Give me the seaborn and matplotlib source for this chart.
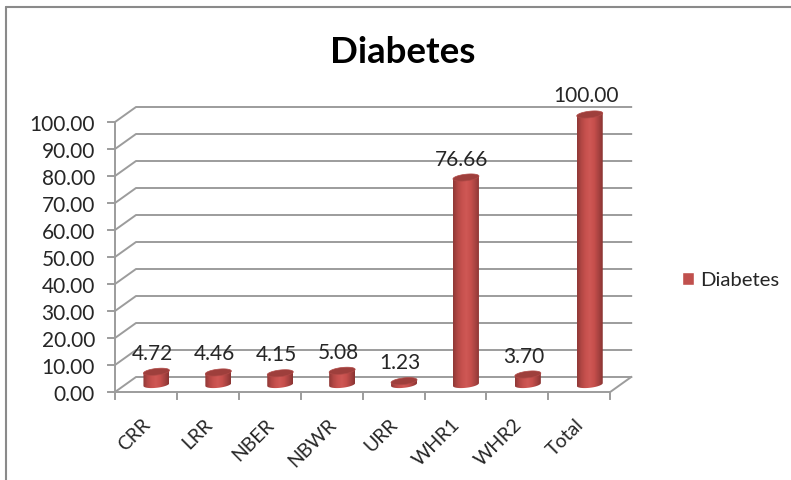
import numpy as np
import pandas as pd
import matplotlib
matplotlib.use("Agg")
import matplotlib.pyplot as plt
from matplotlib.colors import LinearSegmentedColormap
from matplotlib.lines import Line2D
from matplotlib.patches import Polygon
from matplotlib.transforms import ScaledTranslation
import seaborn as sns

categories = ["CRR", "LRR", "NBER", "NBWR", "URR", "WHR1", "WHR2", "Total"]
values = [4.72, 4.46, 4.15, 5.08, 1.23, 76.66, 3.70, 100.00]
series_name = "Diabetes"
axis_ticks = [0, 10, 20, 30, 40, 50, 60, 70, 80, 90, 100]

W, H = 791, 481
DPI = 100
TEXT = "#262626"
GRID = "#9c9c9c"
RED = "#c0504d"

sns.set_style("white")
plt.rcParams["font.family"] = ["Lato", "DejaVu Sans"]

fig = plt.figure(figsize=(W / DPI, H / DPI), dpi=DPI, facecolor="white")

# The axes sit on the mid-depth plane of the 3D box
left_px, right_px = 125.5, 620.7
base_px, top_px = 385.5, 115.5
ax = fig.add_axes([left_px / W, 1 - base_px / H,
                   (right_px - left_px) / W, (base_px - top_px) / H])

df = pd.DataFrame({"category": categories, "value": values, "series": series_name})
sns.barplot(data=df, x="category", y="value", hue="series", palette=[RED],
            saturation=1, width=26 / 61.9, dodge=False, ax=ax, zorder=3)

ax.set_xlim(-0.5, 7.5)
ax.set_ylim(0, 100)
ax.set_xlabel("")
ax.set_ylabel("")
sns.despine(ax=ax, left=True, bottom=True)

px_x = (right_px - left_px) / 8
px_y = (base_px - top_px) / 100
depth_x = 10.5 / px_x
depth_y = 7.5 / px_y


def front(x, v):
    return x - depth_x, v - depth_y


def back(x, v):
    return x + depth_x, v + depth_y


line_kw = dict(color=GRID, lw=1.4, clip_on=False, zorder=1, solid_capstyle="projecting")

# Back-wall gridlines with their slanted returns along the side wall
for v in axis_ticks:
    p0, p1, p2 = front(-0.5, v), back(-0.5, v), back(7.5, v)
    ax.plot([p0[0], p1[0], p2[0]], [p0[1], p1[1], p2[1]], **line_kw)
    tick_end = p0[0] - 7 / px_x
    ax.plot([tick_end, p0[0]], [p0[1], p0[1]], **line_kw)

# Front vertical axis, floor edge and category ticks
ax.plot(*zip(front(-0.5, 0), front(-0.5, 100)), **line_kw)
ax.plot(*zip(front(-0.5, 0), front(7.5, 0), back(7.5, 0)), **line_kw)
for i in range(len(categories) + 1):
    x, y = front(i - 0.5, 0)
    ax.plot([x, x], [y, y - 7 / px_y], **line_kw)

# Cylinder shading over each bar
shade = LinearSegmentedColormap.from_list(
    "cylinder",
    ["#8f3836", "#b24744", "#c7514e", "#cf5855", "#c64f4c", "#a84341", "#8a3432"],
)
gradient = np.linspace(0, 1, 128).reshape(1, -1)
half_w = 13 / px_x
ell_h = 3.3 / px_y
skew = 1.4 / px_y
t_lo = np.linspace(np.pi, 2 * np.pi, 40)
t_all = np.linspace(0, 2 * np.pi, 80)

for bar in [p for p in ax.patches if p.get_height() > 0]:
    cx = bar.get_x() + bar.get_width() / 2
    v = bar.get_height()
    bar.set_visible(False)
    low_x = cx + half_w * np.cos(t_lo)
    low_y = ell_h * np.sin(t_lo) + skew * np.cos(t_lo)
    body = np.column_stack([
        np.r_[low_x, cx + half_w, cx - half_w],
        np.r_[low_y, v + skew, v - skew],
    ])
    clip = Polygon(body, closed=True, transform=ax.transData)
    im = ax.imshow(gradient, cmap=shade, aspect="auto", zorder=3,
                   extent=(cx - half_w, cx + half_w, -ell_h - skew, v + skew))
    # The rounded foot hangs just below the axes, so clip to the figure box
    im.set_clip_box(fig.bbox)
    im.set_clip_path(clip)
    cap = np.column_stack([
        cx + half_w * np.cos(t_all),
        v + ell_h * np.sin(t_all) + skew * np.cos(t_all),
    ])
    ax.add_patch(Polygon(cap, closed=True, facecolor="#9e3f3c", edgecolor="#b04a47",
                         lw=0.5, zorder=4, clip_on=False))

ax.set_xlim(-0.5, 7.5)
ax.set_ylim(0, 100)

# Value labels
for i, v in enumerate(values):
    ax.annotate(f"{v:.2f}", (i, v), xytext=(-4, 19), textcoords="offset pixels",
                ha="center", va="center", fontsize=15, color=TEXT, zorder=6,
                annotation_clip=False)

# Tick labels follow the front edge of the box
ax.set_yticks(axis_ticks)
ax.set_yticklabels([f"{t:.2f}" for t in axis_ticks], fontsize=15, color=TEXT)
ax.tick_params(axis="y", length=0, pad=22)
shift_y = ScaledTranslation(0, -7.5 / DPI, fig.dpi_scale_trans)
for lab in ax.get_yticklabels():
    lab.set_transform(lab.get_transform() + shift_y)

ax.set_xticks(range(len(categories)))
ax.set_xticklabels(categories, fontsize=14, color=TEXT, rotation=45, ha="right",
                   rotation_mode="anchor")
ax.tick_params(axis="x", length=0, pad=22)
shift_x = ScaledTranslation(-15 / DPI, 0, fig.dpi_scale_trans)
for lab in ax.get_xticklabels():
    lab.set_transform(lab.get_transform() + shift_x)

fig.text(402.5 / W, 1 - 53 / H, series_name, fontsize=26.4, fontweight="bold",
         color="black", ha="center", va="center")

handles, labels = ax.get_legend_handles_labels()
ax.legend(handles, labels, loc="center left", frameon=False, fontsize=14.6,
          bbox_to_anchor=(677.5 / W, 1 - 281 / H), bbox_transform=fig.transFigure,
          handlelength=0.6, handleheight=0.62, handletextpad=0.3,
          labelcolor=TEXT, borderpad=0.2, borderaxespad=0)

# Chart-area frame along the top and left edges
frame_kw = dict(color="#8a8a8a", lw=1.5, transform=fig.transFigure)
fig.add_artist(Line2D([6 / W, 1], [1 - 8 / H, 1 - 8 / H], **frame_kw))
fig.add_artist(Line2D([6 / W, 6 / W], [1 - 8 / H, 0], **frame_kw))

fig.savefig("out.png", dpi=DPI)
